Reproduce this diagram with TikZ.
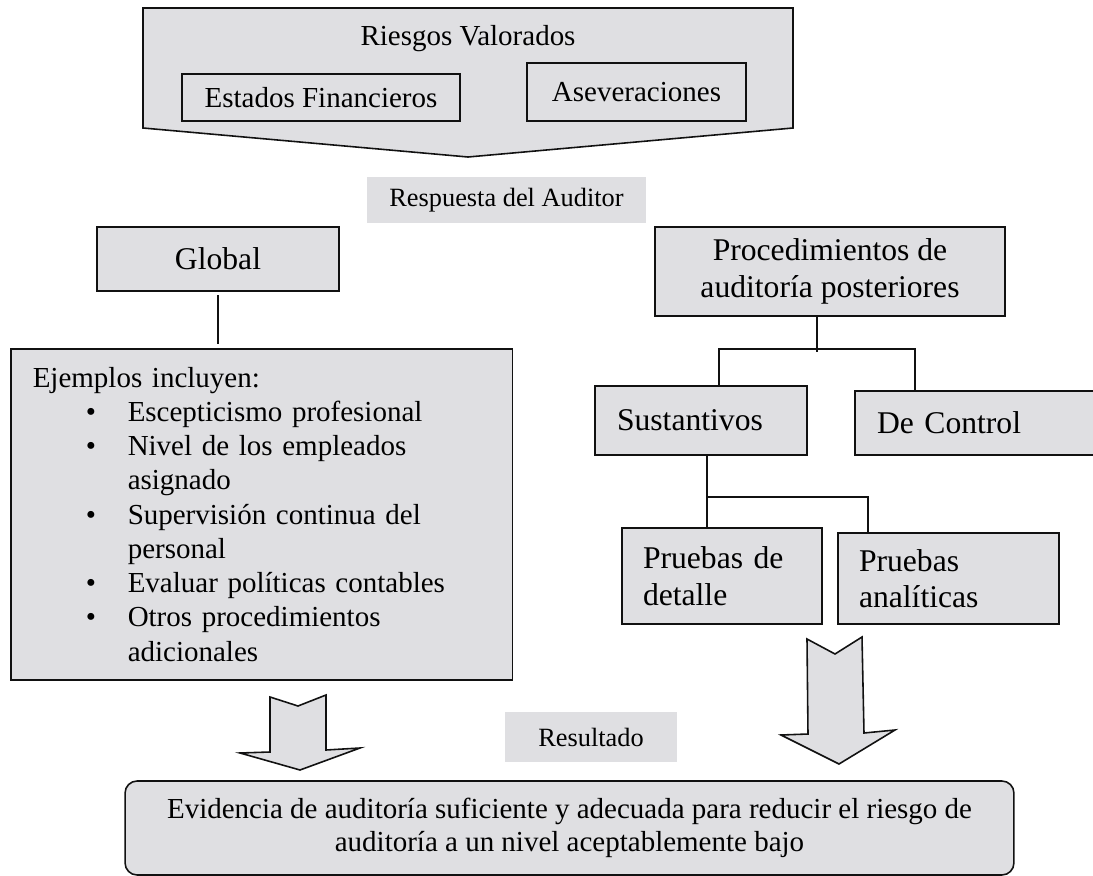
\documentclass[tikz,border=0pt]{standalone}
\usepackage{fontspec}
\setmainfont{Liberation Serif}
\definecolor{Marmol}{HTML}{DFDFE2}
\definecolor{Tinta}{HTML}{111111}
\newcommand{\vineta}{\hspace*{1.06cm}\makebox[0.84cm][l]{\textbullet}}
\newcommand{\sangria}{\hspace*{1.9cm}}

\begin{document}
\begin{tikzpicture}[
    x=0.02cm, y=-0.02cm,
    every node/.style={font=\fontsize{16.5}{19.5}\selectfont,inner sep=0pt},
    caja/.style={draw=Tinta,line width=0.9pt,fill=Marmol,align=center},
    titulo/.style={caja,font=\fontsize{18}{20.8}\selectfont},
    rotulo/.style={fill=Marmol,font=\fontsize{15}{18}\selectfont},
    enlace/.style={draw=Tinta,line width=0.6pt},
    bloque/.style={draw=Tinta,line width=0.9pt,fill=Marmol,line join=miter}
  ]
    \useasboundingbox (0,0) rectangle (1093,876);
    % riesgos valorados
    \draw[bloque] (143,8) -- (793,8) -- (793,128) -- (468,157) -- (143,128) -- cycle;
    \node[anchor=base] (riesgos) at (468,45) {Riesgos Valorados};
    \node[caja,minimum width=5.56cm,minimum height=0.94cm] (estados) at (321,97.5) {Estados Financieros};
    \node[caja,minimum width=4.38cm,minimum height=1.16cm] (asev) at (636.5,92) {Aseveraciones};
    \node[rotulo,minimum width=5.58cm,minimum height=0.92cm] (respuesta) at (506.5,200) {Respuesta del Auditor};
    % respuesta global
    \node[titulo,minimum width=4.84cm,minimum height=1.28cm] (global) at (218,259) {Global};
    \node[caja,align=left,anchor=north west,text width=9.16cm,inner xsep=0.44cm,minimum height=6.62cm] (ejemplos) at (10,348)
      {Ejemplos incluyen:\\
       \vineta Escepticismo profesional\\
       \vineta Nivel de los empleados\\
       \sangria asignado\\
       \vineta Supervisión continua del\\
       \sangria personal\\
       \vineta Evaluar políticas contables\\
       \vineta Otros procedimientos\\
       \sangria adicionales};
    % procedimientos posteriores
    \node[titulo,minimum width=7cm,minimum height=1.78cm] (proc) at (830,271.5) {Procedimientos de\\auditoría posteriores};
    \node[titulo,align=left,text width=3.36cm,inner xsep=0.44cm,minimum height=1.38cm] (sust) at (701,420.5) {Sustantivos};
    \node[titulo,align=left,text width=4.02cm,inner xsep=0.44cm,minimum height=1.28cm] (control) at (977.5,423) {De Control};
    \node[titulo,align=left,text width=3.16cm,inner xsep=0.42cm,minimum height=1.92cm] (detalle) at (722,576) {Pruebas de\\detalle};
    \node[titulo,align=left,text width=3.58cm,inner xsep=0.42cm,minimum height=1.82cm] (analitica) at (948.5,578.5) {Pruebas\\analíticas};
    % resultado
    \node[rotulo,minimum width=3.44cm,minimum height=1cm] (resultado) at (591,737) {Resultado};
    \node[caja,rounded corners=6.8pt,minimum width=17.78cm,minimum height=1.88cm,font=\fontsize{16.5}{18.7}\selectfont] (evidencia) at (569.5,828)
      {Evidencia de auditoría suficiente y adecuada para reducir el riesgo de\\auditoría a un nivel aceptablemente bajo};
    % conectores
    \coordinate (ramaI) at (719,349);
    \coordinate (ramaD) at (915,349);
    \coordinate (tallo) at (817,352);
    \coordinate (subI) at (707,497);
    \coordinate (subD) at (868,497);
    \draw[enlace,shorten <=2pt,shorten >=2pt] (global.south) -- (global.south |- ejemplos.north);
    \draw[enlace] (proc.south -| tallo) -- (tallo);
    \draw[enlace] (ramaI |- sust.north) -- (ramaI) -- (ramaD) -- (ramaD |- control.north);
    \draw[enlace] (sust.south -| subI) -- (subI |- detalle.north);
    \draw[enlace] (subI) -- (subD) -- (subD |- analitica.north);
    % flechas de bloque
    \draw[bloque] (270,697) -- (298,706) -- (326,695) -- (326,750) -- (360,748) -- (300,770) -- (240,753) -- (270,752) -- cycle;
    \draw[bloque] (807,639) -- (835,654) -- (862,637) -- (864,733) -- (895,730) -- (839,764) -- (781,735) -- (808,734) -- cycle;
\end{tikzpicture}
\end{document}
